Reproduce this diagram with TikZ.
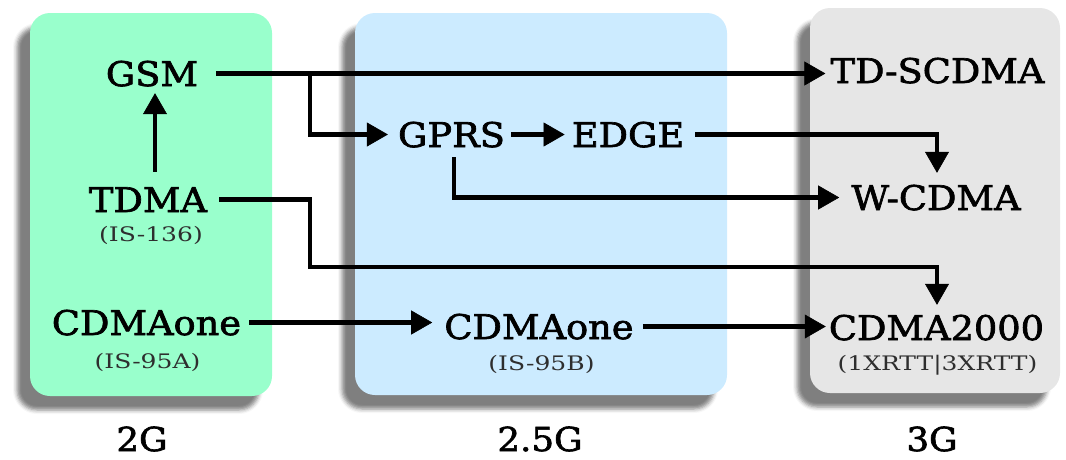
\documentclass[tikz,border=0pt]{standalone}
\usepackage{fontspec}
\setmainfont{DejaVu Serif}[FakeStretch=1.08,FakeBold=2]
\newfontfamily\subfont{DejaVu Serif}[FakeStretch=1.25]
\usetikzlibrary{arrows.meta,calc,shadows.blur}
\definecolor{gtwo}{HTML}{99FFCC}
\definecolor{gtwofive}{HTML}{CCEBFF}
\definecolor{gthree}{HTML}{E6E6E6}
\tikzset{
  panel/.style={rounded corners=20pt, blur shadow={shadow xshift=-13pt, shadow yshift=-14pt, shadow blur radius=4pt, shadow opacity=50}},
  big/.style={inner sep=0pt, anchor=base, font=\fontsize{34}{34}\selectfont, text height=25pt, text depth=0pt},
  sub/.style={inner sep=0pt, anchor=base, font=\subfont\fontsize{20}{20}\selectfont, text=black!82},
  gen/.style={inner sep=0pt, anchor=base, font=\fontsize{33}{33}\selectfont},
  arr/.style={line width=4.5pt, -{Triangle[length=21pt,width=24pt,line width=0.6pt,fill=black,color=black]}}
}
\begin{document}
\begin{tikzpicture}[x=1pt,y=-1pt]
\useasboundingbox (0,0) rectangle (1066,459);
% panels
\fill[gtwo, panel] (30,13) rectangle (272,396);
\fill[gtwofive, panel] (355,13) rectangle (727,395);
\fill[gthree, panel] (810,8) rectangle (1060,393);
% nodes
\node[big] (gsm) at (152,86) {GSM};
\node[big] (tdma) at (148,212) {TDMA};
\node[sub] (is136) at (151,241) {(IS-136)};
\node[big] (cdma1) at (146.5,335) {CDMAone};
\node[sub] (is95a) at (147.5,368) {(IS-95A)};
\node[big] (gprs) at (451.5,147) {GPRS};
\node[big] (edge) at (628,147) {EDGE};
\node[big] (cdma2) at (539,339) {CDMAone};
\node[sub] (is95b) at (541.5,370) {(IS-95B)};
\node[big] (tdscdma) at (937.5,83) {TD-SCDMA};
\node[big] (wcdma) at (936,210) {W-CDMA};
\node[big] (cdma2k) at (936.5,340) {CDMA2000};
\node[sub] (rtt) at (937.5,370) {(1XRTT|3XRTT)};
\node[gen] (g2) at (142,451) {2G};
\node[gen] (g25) at (540,451) {2.5G};
\node[gen] (g3) at (932,451) {3G};
% junctions
\coordinate (j1) at (310,73.5);
\coordinate (j2) at (310,267);
% connectors
\draw[arr] ($(tdma.north)+(7,-15)$) -- ($(gsm.south)+(3,7)$);
\draw[arr] ($(gsm.east)+(18,0)$) -- ($(gsm.east -| tdscdma.west)+(-5,0)$);
\draw[arr] (j1) |- ($(gprs.west)+(-10,0)$);
\draw[arr] ($(gprs.east)+(6,0)$) -- ($(edge.west)+(-7,0)$);
\draw[arr] ($(edge.east)+(11,0)$) -| ($(wcdma.north)+(1,-12)$);
\draw[arr] ($(gprs.south)+(2.5,10)$) |- ($(wcdma.west)+(-12,0)$);
\draw[arr] ($(tdma.east)+(12,0)$) -| (j2) -| ($(cdma2k.north)+(0.5,-10)$);
\draw[arr] ($(cdma1.east)+(8,0)$) -- ($(cdma1.east -| cdma2.west)+(-12,0)$);
\draw[arr] ($(cdma2.east)+(9,0)$) -- ($(cdma2.east -| cdma2k.west)+(-3,0)$);
\end{tikzpicture}
\end{document}
